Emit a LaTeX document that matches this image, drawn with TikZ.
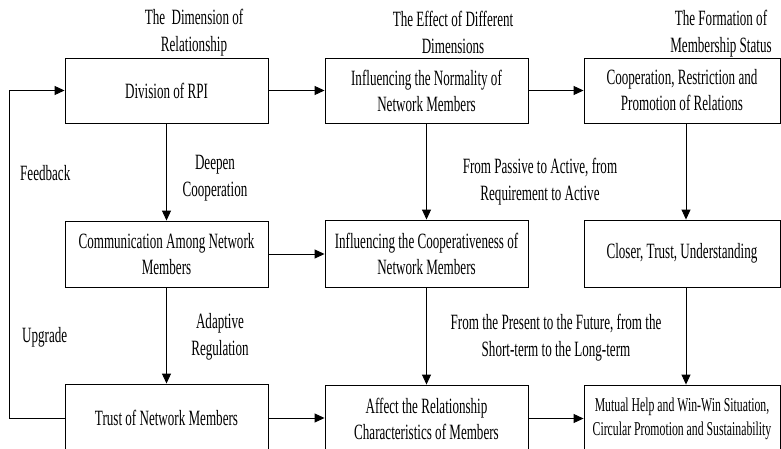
\documentclass[tikz,border=0pt]{standalone}
\usepackage{fontspec}
\setmainfont{Liberation Serif}[FakeStretch=0.6]
\usetikzlibrary{arrows.meta}
\tikzset{
  box/.style={draw, line width=0.9pt, minimum width=203pt, inner sep=0pt, align=center, font=\fontsize{21.8}{26}\selectfont},
  lbl/.style={inner sep=0pt, align=center, font=\fontsize{21.8}{27}\selectfont},
  arr/.style={line width=0.9pt, -{Triangle[length=10pt,width=9pt]}},
  ln/.style={line width=0.9pt}
}
\begin{document}
\begin{tikzpicture}[x=1pt,y=-1pt]
\useasboundingbox (0,0) rectangle (781,449);
\clip (0,0) rectangle (781,449);
% boxes
\node[box, minimum height=65pt] (b1) at (166.5,90.5) {Division of RPI};
\node[box, minimum height=65pt] (b2) at (426.5,90.5) {Influencing the Normality of\\Network Members};
\node[box, minimum height=65pt, minimum width=196pt] (b3) at (682,90.5) {Cooperation, Restriction and\\Promotion of Relations};
\node[box, minimum height=66pt] (b4) at (166.5,254) {Communication Among Network\\Members};
\node[box, minimum height=67pt] (b5) at (426.5,253.5) {Influencing the Cooperativeness of\\Network Members};
\node[box, minimum height=67pt, minimum width=196pt] (b6) at (682,253.5) {Closer, Trust, Understanding};
\node[box, minimum height=68pt] (b7) at (166.5,418) {Trust of Network Members};
\node[box, minimum height=67pt] (b8) at (426.5,418.5) {Affect the Relationship\\Characteristics of Members};
\node[box, minimum height=67pt, minimum width=196pt, font=\fontsize{19.6}{24}\selectfont] (b9) at (682,418.5) {Mutual Help and Win-Win Situation,\\Circular Promotion and Sustainability};
% headers
\node[lbl] (h1) at (194,33) {The\ \ Dimension of\\Relationship};
\node[lbl] (h2) at (453,32) {The Effect of Different\\Dimensions};
\node[lbl] (h3) at (721,33.5) {The Formation of\\Membership Status};
% labels
\node[lbl, anchor=west] (lfb) at (20,173) {Feedback};
\node[lbl, anchor=west] (lup) at (22,337) {Upgrade};
\node[lbl] (ldc) at (215,178.5) {Deepen\\Cooperation};
\node[lbl] (lar) at (220,336.5) {Adaptive\\Regulation};
\node[lbl] (lpa) at (540,181.5) {From Passive to Active, from\\Requirement to Active};
\node[lbl] (lpf) at (556,337.5) {From the Present to the Future, from the\\Short-term to the Long-term};
% connectors
\draw[arr] (b1.east) -- (b2.west);
\draw[arr] (b2.east) -- (b3.west);
\draw[arr] (b4.east) -- (b4.east -| b5.west);
\draw[arr] (b7.east) -- (b7.east -| b8.west);
\draw[arr] (b8.east) -- (b9.west);
\draw[arr] (b1.south) -- (b4.north);
\draw[arr] (b4.south) -- (b7.north);
\draw[arr] (b2.south) -- (b5.north);
\draw[arr] (b5.south) -- (b8.north);
\draw[arr] ([xshift=4pt]b3.south) -- ([xshift=4pt]b6.north);
\draw[arr] ([xshift=4pt]b6.south) -- ([xshift=4pt]b9.north);
\coordinate (fbx) at (9,0);
\draw[arr] (b7.west) -- (b7.west -| fbx) |- (b1.west);
\end{tikzpicture}
\end{document}
